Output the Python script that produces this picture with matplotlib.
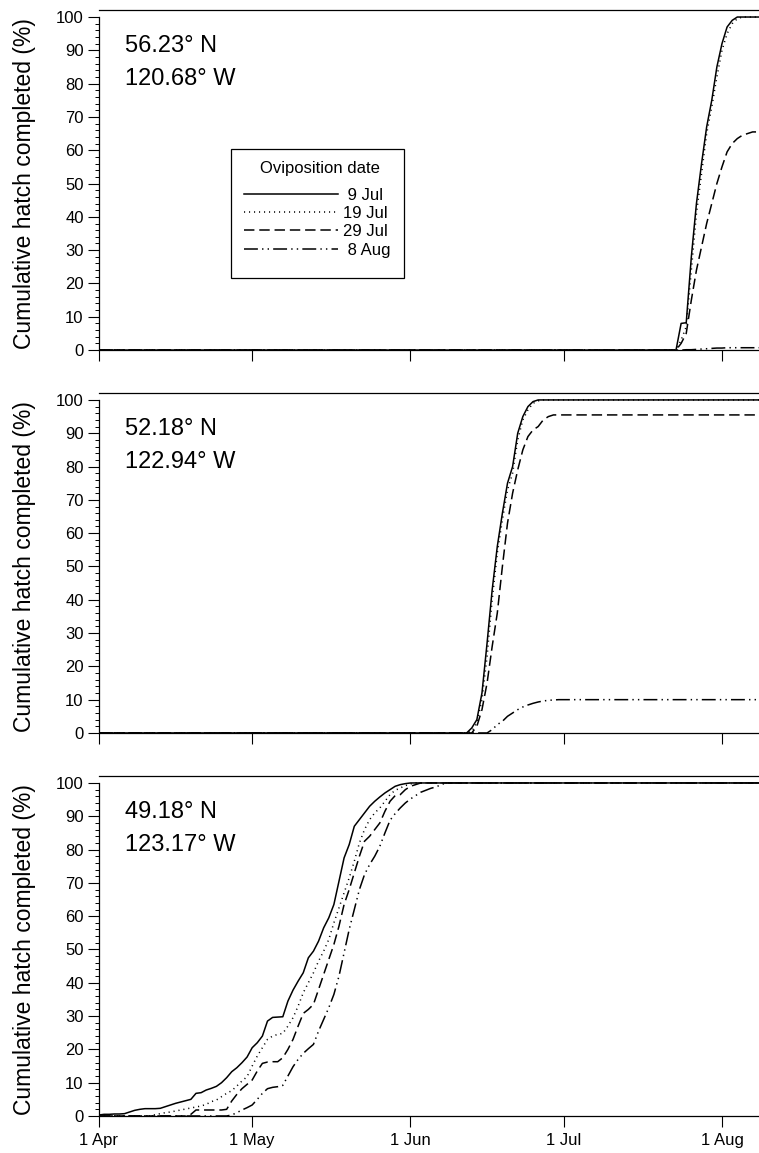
"""Cumulative hatch curves for three sites, four oviposition dates each."""
import matplotlib

matplotlib.use("Agg")
import matplotlib.pyplot as plt
from matplotlib.patches import Rectangle

plt.rcParams["font.family"] = ["Liberation Sans", "DejaVu Sans"]
plt.rcParams["lines.scale_dashes"] = False

# x = days after 1 April
TICK_DAYS = [0, 30, 61, 91, 122]
TICK_LABELS = ["1 Apr", "1 May", "1 Jun", "1 Jul", "1 Aug"]
LEGEND_TITLE = "Oviposition date"
LEGEND_LABELS = [" 9 Jul", "19 Jul", "29 Jul", " 8 Aug"]

# 56.23 N
P1_DAYS = [0] + list(range(113, 131))
P1_9JUL = [0, 0, 8, 8.2, 28, 44, 56, 67, 75, 85, 92, 97, 99, 100, 100, 100, 100, 100, 100]
P1_19JUL = [0, 0, 3, 7, 24, 41, 53, 65, 73, 82, 90, 95, 98, 99.5, 100, 100, 100, 100, 100]
P1_29JUL = [0, 0, 2, 5, 15, 24, 31, 38, 44, 50, 55, 59.5, 62, 63.5, 64.5, 65, 65.5, 65.5, 65.5]
P1_8AUG = [0, 0, 0, 0.1, 0.1, 0.2, 0.3, 0.4, 0.5, 0.6, 0.6, 0.7, 0.7, 0.7, 0.7, 0.7, 0.7, 0.7, 0.7]

# 52.18 N
P2_DAYS = [0] + list(range(71, 93)) + [130]
P2_9JUL = [0, 0, 0, 1.5, 4, 12, 27, 43, 56, 66, 75, 80, 90, 95, 98, 99.5, 100,
           100, 100, 100, 100, 100, 100, 100]
P2_19JUL = [0, 0, 0, 0.5, 3, 10, 23, 40, 54, 64, 73, 78, 88, 94, 97, 99, 99.7,
            100, 100, 100, 100, 100, 100, 100]
P2_29JUL = [0, 0, 0, 0, 2, 7, 15, 26, 36, 50, 63, 72, 79, 85, 89, 91, 92,
            94, 95, 95.5, 95.5, 95.5, 95.5, 95.5]
P2_8AUG = [0, 0, 0, 0, 0, 0, 0, 1, 2.5, 3.5, 5, 6, 7, 7.8, 8.4, 8.9, 9.3,
           9.6, 9.8, 9.9, 10, 10, 10, 10]

# 49.18 N
P3_DAYS = list(range(0, 69)) + [130]
P3_9JUL = [0.3, 0.5, 0.5, 0.6, 0.6, 0.7, 1.2, 1.7, 2.0, 2.2, 2.2, 2.2, 2.3, 2.8,
           3.3, 3.8, 4.2, 4.6, 5.0, 6.8, 7.0, 7.8, 8.3, 8.9, 10.0, 11.5, 13.3,
           14.5, 16.0, 17.7, 20.5, 22.0, 24.0, 28.5, 29.6, 29.7, 29.8, 34.5,
           37.8, 40.5, 43.0, 47.5, 49.5, 52.5, 56.5, 59.5, 63.5, 70.5, 77.5,
           81.5, 87.0, 89.0, 91.0, 93.0, 94.5, 95.8, 97.0, 98.0, 99.0, 99.5,
           99.8, 100] + [100] * 8
P3_19JUL = [0] * 11 + [0.4, 0.7, 1.0, 1.2, 1.5, 1.8, 2.1, 2.4, 2.7, 3.0, 3.5,
                       4.3, 4.8, 5.8, 6.8, 7.6, 9.0, 10.5, 11.8, 15.0, 18.0,
                       20.5, 23.0, 24.0, 24.5, 24.8, 27.0, 29.5, 33.0, 37.0,
                       40.0, 43.0, 46.5, 49.5, 53.0, 58.0, 62.5, 67.0, 71.5,
                       76.5, 82.0, 86.0, 89.0, 91.0, 92.5, 94.5, 96.5, 97.8,
                       98.5, 99.2, 99.7, 100] + [100] * 7
P3_29JUL = [0] * 18 + [0.5, 1.8, 1.8, 1.8, 1.8, 1.8, 1.8, 2.0, 4.5, 6.5, 8.2,
                       9.5, 10.8, 13.5, 15.8, 16.2, 16.3, 16.3, 17.5, 20.0,
                       23.0, 27.0, 30.8, 32.0, 33.5, 38.0, 42.5, 47.0, 51.5,
                       57.0, 63.5, 68.0, 73.0, 78.0, 82.5, 84.0, 86.0, 88.0,
                       91.5, 94.5, 96.2, 96.5, 98.0, 99.0, 99.5, 100] + [100] * 6
P3_8AUG = [0] * 26 + [0.3, 1.0, 1.8, 2.5, 3.3, 5.0, 6.8, 8.2, 8.6, 8.8, 9.2,
                      12.0, 14.8, 17.0, 18.8, 20.2, 21.5, 25.5, 29.0, 32.5,
                      36.5, 42.0, 49.0, 56.0, 62.0, 68.0, 72.5, 75.5, 78.0,
                      81.0, 85.0, 88.8, 90.8, 92.5, 94.0, 95.2, 96.2, 97.2,
                      97.8, 98.4, 98.8, 99.5, 100, 100]

SITES = [
    ("56.23° N", "120.68° W", P1_DAYS, [P1_9JUL, P1_19JUL, P1_29JUL, P1_8AUG]),
    ("52.18° N", "122.94° W", P2_DAYS, [P2_9JUL, P2_19JUL, P2_29JUL, P2_8AUG]),
    ("49.18° N", "123.17° W", P3_DAYS, [P3_9JUL, P3_19JUL, P3_29JUL, P3_8AUG]),
]

STYLES = [
    dict(linestyle="-"),
    dict(linestyle=(0, (0.8, 2.8))),
    dict(linestyle=(0, (7.5, 3.5))),
    dict(linestyle=(0, (10, 3, 1, 3, 1, 3))),
]

fig = plt.figure(figsize=(7.59, 11.53), dpi=100)
bottoms = [0.6964, 0.3643, 0.0321]
axes = []
for (lat, lon, days, curves), bottom in zip(SITES, bottoms):
    ax = fig.add_axes([0.1304, bottom, 0.8696, 0.2949])
    for vals, style in zip(curves, STYLES):
        ax.plot(days, vals, color="black", linewidth=1.1, **style)
    ax.set_xlim(0, 129.25)
    ax.set_ylim(0, 102.1)
    ax.set_yticks(range(0, 101, 10))
    ax.set_yticks(range(0, 101, 2), minor=True)
    ax.set_xticks(TICK_DAYS)
    ax.set_xticklabels(TICK_LABELS)
    ax.tick_params(axis="both", which="major", direction="out", length=8,
                   width=0.8, labelsize=12, pad=4)
    ax.tick_params(axis="y", which="major", pad=3)
    ax.tick_params(axis="y", which="minor", direction="out", length=3.2, width=0.7)
    ax.spines["right"].set_visible(False)
    ax.spines["left"].set_bounds(0, 100)
    for side in ("left", "bottom", "top"):
        ax.spines[side].set_linewidth(0.9)
    ax.set_ylabel("Cumulative hatch completed (%)", fontsize=16.5)
    ax.yaxis.set_label_coords(-0.095, 0.49)
    ax.text(0.039, 91.3, lat, transform=ax.get_yaxis_transform(), fontsize=17,
            ha="left", va="center")
    ax.text(0.039, 81.3, lon, transform=ax.get_yaxis_transform(), fontsize=17,
            ha="left", va="center")
    axes.append(ax)

for ax in axes[:2]:
    ax.tick_params(axis="x", labelbottom=False)

# legend: entries, title and frame placed separately to match the boxed key
top = axes[0]
leg = top.legend(LEGEND_LABELS, loc="upper left", bbox_to_anchor=(0.22, 0.478),
                 fontsize=12, handlelength=5.6, handletextpad=0.3,
                 labelspacing=0.2, borderpad=0, borderaxespad=0,
                 frameon=False)
top.text(0.335, 0.535, LEGEND_TITLE, transform=top.transAxes, fontsize=12,
         ha="center", va="center")
top.add_patch(Rectangle((0.2, 0.212), 0.262, 0.379, transform=top.transAxes,
                        fill=False, edgecolor="black", linewidth=0.9,
                        clip_on=False, zorder=5))

fig.savefig("out.png", dpi=100)
